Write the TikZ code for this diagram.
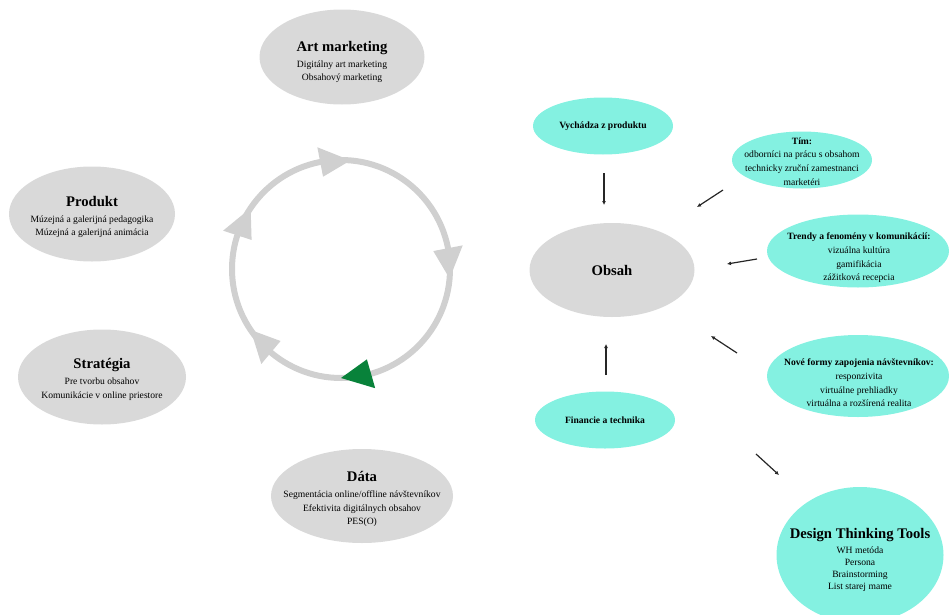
\documentclass[tikz,border=0pt]{standalone}
\usepackage{fontspec}
\setmainfont{Liberation Serif}
\usetikzlibrary{shapes.geometric,arrows.meta}

\definecolor{ovalgray}{HTML}{D9D9D9}
\definecolor{ovalteal}{HTML}{84F1E1}
\definecolor{ringgray}{HTML}{D0D0D0}
\definecolor{ringgreen}{HTML}{08823A}

\newcommand\bigttl[1]{{\fontsize{11}{13}\selectfont\bfseries #1}}
\newcommand\smallttl[1]{{\bfseries #1}}

\begin{document}
\begin{tikzpicture}[inner sep=0mm,>={Latex[length=3pt,width=3pt]},x=0.75pt,y=-0.75pt,
    oval/.style={ellipse},
    grayoval/.style={oval,fill=ovalgray},
    tealoval/.style={oval,fill=ovalteal},
    ovalwh/.style 2 args={minimum width=#1*0.75pt,minimum height=#2*0.75pt},
    ovaltext/.style={align=center,font=\fontsize{7.2}{10.2}\selectfont},
    conn/.style={->,line width=0.9pt,black!85}]
  \useasboundingbox (0,0) rectangle (949,614);
  \clip (0,0) rectangle (949,614);

  % cycle on the left
  \xdef\cx{341}
  \xdef\cy{269}
  \xdef\rr{109}
  \draw[ringgray,line width=4.5pt] (\cx,\cy) circle (\rr);
  \foreach \a/\col in {267/ringgray,357/ringgray,82/ringgreen,138/ringgray,206/ringgray} {
    \fill[\col] ([shift={(\cx,\cy)}]\a+8:\rr) -- ([shift={(\cx,\cy)}]\a-8:\rr+15)
      -- ([shift={(\cx,\cy)}]\a-8:\rr-15) -- cycle;
  }

  % gray ovals
  \node[grayoval,ovalwh={165}{95}] (art) at (342,57) {};
  \node[grayoval,ovalwh={166}{95}] (produkt) at (92,214) {};
  \node[grayoval,ovalwh={168}{95}] (strategia) at (102,377) {};
  \node[grayoval,ovalwh={182}{94}] (data) at (362,496) {};
  \node[grayoval,ovalwh={165}{94}] (obsah) at (612,270) {};

  \node[ovaltext] (art-t) at (342,62)
    {\bigttl{Art marketing}\\[2pt] Digitálny art marketing\\ Obsahový marketing};
  \node[ovaltext] (produkt-t) at (92,217)
    {\bigttl{Produkt}\\[2pt] Múzejná a galerijná pedagogika\\ Múzejná a galerijná animácia};
  \node[ovaltext] (strategia-t) at (102,379)
    {\bigttl{Stratégia}\\[2pt] Pre tvorbu obsahov\\ Komunikácie v online priestore};
  \node[ovaltext] (data-t) at (362,499)
    {\bigttl{Dáta}\\[2pt] Segmentácia online/offline návštevníkov\\ Efektivita digitálnych obsahov\\ PES(O)};
  \node[ovaltext,font=\fontsize{11}{13}\selectfont\bfseries] (obsah-t) at (612,270) {Obsah};

  % teal ovals
  \node[tealoval,ovalwh={140}{57}] (vychadza) at (603,126) {};
  \node[tealoval,ovalwh={140}{57}] (tim) at (802,160) {};
  \node[tealoval,ovalwh={182}{73}] (trendy) at (858,251) {};
  \node[tealoval,ovalwh={182}{82}] (nove) at (858,376) {};
  \node[tealoval,ovalwh={140}{57}] (financie) at (605,420) {};
  \node[tealoval,ovalwh={167}{136}] (design) at (860,555) {};

  \node[ovaltext] (vychadza-t) at (603,126) {\smallttl{Vychádza z produktu}};
  \node[ovaltext] (tim-t) at (802,161.5)
    {\smallttl{Tím:}\\ odborníci na prácu s obsahom\\ technicky zruční zamestnanci\\ marketéri};
  \node[ovaltext] (trendy-t) at (859,258)
    {\smallttl{Trendy a fenomény v komunikácií:}\\ vizuálna kultúra\\ gamifikácia\\ zážitková recepcia};
  \node[ovaltext] (nove-t) at (859,383)
    {\smallttl{Nové formy zapojenia návštevníkov:}\\ responzivita\\ virtuálne prehliadky\\ virtuálna a rozšírená realita};
  \node[ovaltext] (financie-t) at (605,420) {\smallttl{Financie a technika}};
  \node[ovaltext,font=\fontsize{7.2}{9}\selectfont] (design-t) at (860,560)
    {\bigttl{Design Thinking Tools}\\[2pt] WH metóda\\ Persona\\ Brainstorming\\ List starej mame};

  % arrows towards Obsah
  \coordinate (vy-a) at (604,173);  \coordinate (vy-b) at (604,205);
  \coordinate (tim-a) at (723,190); \coordinate (tim-b) at (697,207);
  \coordinate (tr-a) at (757,259);  \coordinate (tr-b) at (727,264);
  \coordinate (no-a) at (737,353);  \coordinate (no-b) at (711,336);
  \coordinate (fi-a) at (606,375);  \coordinate (fi-b) at (606,344);
  \coordinate (ds-a) at (756,454);  \coordinate (ds-b) at (779,475);
  \foreach \s in {vy,tim,tr,no,fi,ds} {
    \draw[conn] (\s-a) -- (\s-b);
  }
\end{tikzpicture}
\end{document}
